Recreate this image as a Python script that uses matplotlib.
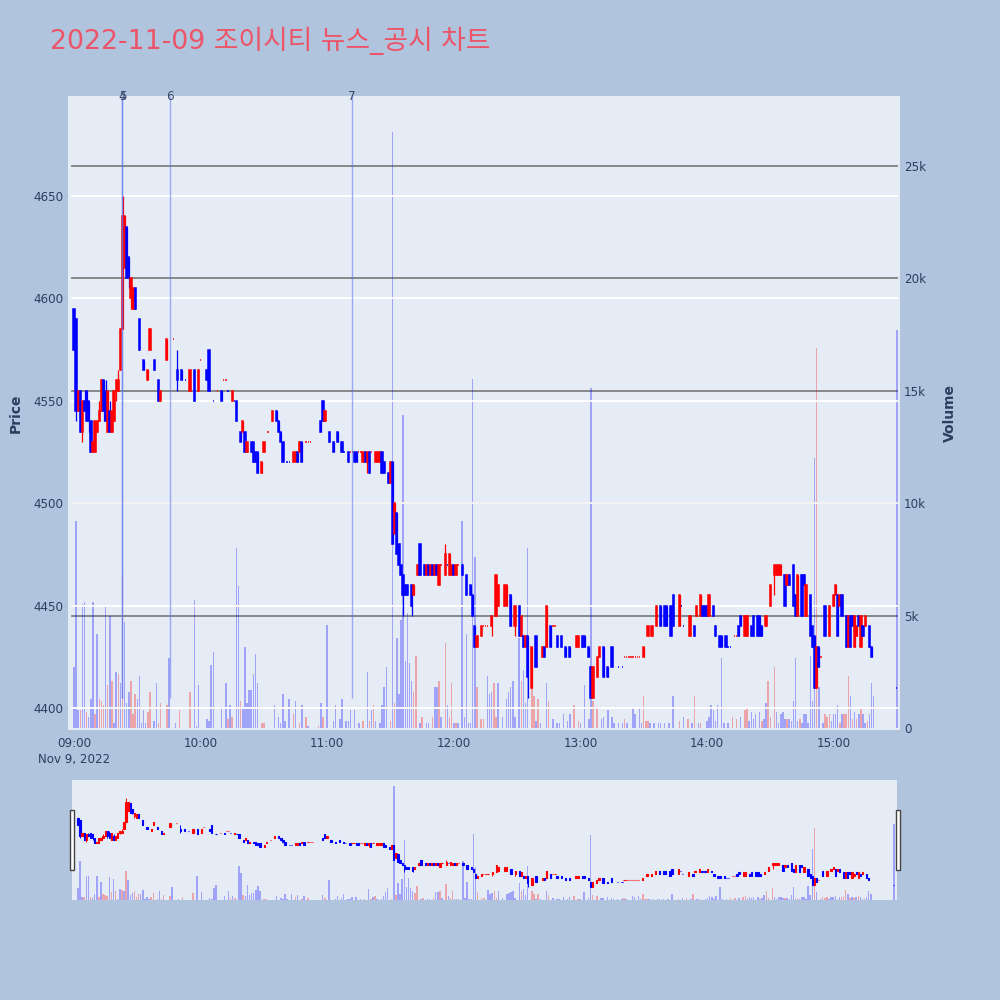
import matplotlib
matplotlib.use("Agg")
import matplotlib.pyplot as plt
from matplotlib.patches import Rectangle

# ---------------- data (minutes after 09:00, prices in KRW) ----------------
c_min = [0, 1, 2, 3, 4, 5, 6, 7, 8, 9,
         10, 11, 12, 13, 14, 15, 16, 17, 18, 19,
         20, 21, 22, 23, 24, 25, 26, 27, 28, 29,
         31, 33, 35, 36, 38, 40, 41, 44, 47, 49,
         51, 53, 55, 57, 59, 60, 63, 64, 66, 68,
         70, 71, 72, 73, 75, 76, 77, 79, 80, 81,
         82, 84, 85, 86, 87, 89, 90, 92, 94, 96,
         97, 98, 99, 101, 102, 104, 105, 106, 107, 108,
         110, 111, 112, 117, 118, 119, 121, 123, 125, 127,
         128, 130, 131, 132, 133, 134, 135, 136, 137, 138,
         139, 140, 141, 143, 144, 145, 146, 147, 149, 150,
         151, 152, 153, 154, 155, 156, 157, 158, 160, 161,
         163, 164, 166, 167, 168, 169, 170, 171, 172, 173,
         174, 176, 177, 178, 179, 180, 181, 182, 184, 186,
         188, 189, 190, 191, 193, 194, 195, 196, 198, 200,
         201, 204, 205, 207, 209, 211, 212, 213, 214, 215,
         217, 219, 222, 223, 224, 226, 227, 228, 229, 231,
         233, 235, 238, 239, 241, 242, 244, 245, 246, 248,
         249, 251, 253, 255, 258, 260, 261, 262, 263, 264,
         265, 266, 267, 268, 270, 272, 274, 276, 278, 280,
         281, 283, 284, 287, 288, 289, 292, 294, 295, 297,
         298, 299, 300, 301, 303, 304, 306, 307, 309, 310,
         311, 313, 314, 315, 316, 318, 319, 321, 322, 324,
         325, 326, 328, 330, 332, 333, 334, 335, 337, 338,
         339, 341, 342, 343, 345, 346, 347, 349, 350, 351,
         352, 353, 354, 356, 358, 360, 361, 362, 363, 364,
         366, 367, 368, 369, 370, 371, 372, 373, 374, 375,
         377, 378, 390]
c_open = [4595, 4590, 4545, 4555, 4535, 4550, 4555, 4550, 4540, 4525,
          4525, 4535, 4540, 4545, 4560, 4555, 4535, 4545, 4535, 4540,
          4555, 4555, 4565, 4585, 4615, 4635, 4620, 4600, 4595, 4605,
          4590, 4570, 4560, 4575, 4570, 4560, 4550, 4570, 4580, 4565,
          4565, 4560, 4555, 4565, 4555, 4570, 4565, 4575, 4550, 4555,
          4555, 4560, 4560, 4555, 4550, 4550, 4550, 4535, 4535, 4535,
          4525, 4530, 4530, 4525, 4525, 4515, 4525, 4535, 4540, 4545,
          4540, 4535, 4530, 4520, 4520, 4520, 4520, 4525, 4525, 4530,
          4530, 4530, 4530, 4540, 4550, 4540, 4535, 4530, 4535, 4530,
          4525, 4525, 4525, 4525, 4525, 4525, 4525, 4525, 4520, 4525,
          4520, 4525, 4525, 4520, 4520, 4520, 4525, 4520, 4515, 4510,
          4520, 4485, 4495, 4480, 4470, 4465, 4460, 4460, 4460, 4455,
          4465, 4480, 4470, 4465, 4470, 4465, 4470, 4465, 4470, 4460,
          4470, 4465, 4470, 4465, 4465, 4470, 4465, 4470, 4470, 4465,
          4460, 4455, 4440, 4430, 4435, 4440, 4440, 4440, 4440, 4445,
          4450, 4450, 4450, 4455, 4440, 4450, 4435, 4435, 4430, 4435,
          4410, 4435, 4425, 4430, 4430, 4440, 4440, 4440, 4435, 4435,
          4430, 4430, 4430, 4430, 4435, 4435, 4430, 4420, 4405, 4415,
          4425, 4430, 4420, 4430, 4420, 4420, 4425, 4425, 4425, 4425,
          4425, 4425, 4425, 4425, 4425, 4435, 4435, 4440, 4450, 4450,
          4450, 4450, 4455, 4440, 4450, 4440, 4435, 4440, 4445, 4445,
          4450, 4450, 4450, 4445, 4450, 4440, 4435, 4435, 4435, 4430,
          4430, 4435, 4435, 4440, 4445, 4435, 4435, 4440, 4445, 4445,
          4445, 4440, 4440, 4450, 4465, 4465, 4465, 4465, 4465, 4460,
          4465, 4470, 4455, 4445, 4465, 4465, 4445, 4455, 4440, 4435,
          4410, 4430, 4425, 4450, 4435, 4450, 4455, 4455, 4450, 4455,
          4445, 4430, 4445, 4445, 4430, 4435, 4445, 4430, 4440, 4440,
          4440, 4430, 4410]
c_high = [4595, 4590, 4555, 4555, 4550, 4555, 4555, 4550, 4540, 4530,
          4540, 4540, 4550, 4560, 4560, 4560, 4555, 4550, 4545, 4555,
          4560, 4565, 4585, 4650, 4640, 4635, 4620, 4610, 4605, 4605,
          4590, 4570, 4565, 4585, 4570, 4560, 4555, 4580, 4580, 4575,
          4565, 4560, 4565, 4565, 4565, 4570, 4565, 4575, 4550, 4555,
          4555, 4560, 4560, 4555, 4555, 4550, 4550, 4535, 4540, 4535,
          4530, 4530, 4530, 4525, 4525, 4520, 4530, 4535, 4545, 4545,
          4540, 4535, 4530, 4520, 4520, 4525, 4525, 4525, 4530, 4530,
          4530, 4530, 4530, 4540, 4550, 4545, 4535, 4530, 4535, 4530,
          4525, 4525, 4525, 4525, 4525, 4525, 4525, 4525, 4525, 4525,
          4525, 4525, 4525, 4525, 4525, 4525, 4525, 4520, 4515, 4520,
          4520, 4500, 4495, 4480, 4470, 4465, 4460, 4460, 4460, 4460,
          4470, 4480, 4470, 4470, 4470, 4470, 4470, 4470, 4470, 4470,
          4470, 4480, 4470, 4475, 4470, 4470, 4470, 4470, 4470, 4465,
          4460, 4455, 4440, 4435, 4440, 4440, 4440, 4440, 4445, 4465,
          4460, 4460, 4460, 4455, 4450, 4450, 4445, 4435, 4435, 4435,
          4430, 4435, 4430, 4430, 4450, 4440, 4440, 4440, 4435, 4435,
          4430, 4430, 4435, 4435, 4435, 4435, 4430, 4420, 4420, 4425,
          4430, 4430, 4420, 4430, 4420, 4420, 4425, 4425, 4425, 4425,
          4425, 4425, 4425, 4425, 4430, 4440, 4440, 4450, 4450, 4450,
          4450, 4450, 4455, 4455, 4450, 4440, 4445, 4440, 4450, 4455,
          4450, 4450, 4450, 4455, 4450, 4440, 4435, 4435, 4435, 4430,
          4430, 4435, 4435, 4440, 4445, 4445, 4445, 4440, 4445, 4445,
          4445, 4440, 4445, 4460, 4470, 4470, 4470, 4470, 4465, 4465,
          4465, 4470, 4455, 4465, 4465, 4465, 4460, 4455, 4440, 4435,
          4430, 4430, 4425, 4450, 4450, 4455, 4460, 4455, 4455, 4455,
          4445, 4445, 4445, 4445, 4445, 4440, 4445, 4445, 4440, 4445,
          4440, 4430, 4410]
c_low = [4575, 4540, 4545, 4535, 4530, 4545, 4540, 4535, 4525, 4525,
         4525, 4535, 4540, 4545, 4540, 4540, 4535, 4535, 4535, 4540,
         4550, 4555, 4565, 4585, 4615, 4610, 4605, 4595, 4595, 4595,
         4575, 4565, 4560, 4575, 4565, 4550, 4550, 4570, 4580, 4555,
         4560, 4560, 4555, 4550, 4555, 4570, 4560, 4555, 4550, 4555,
         4550, 4560, 4560, 4555, 4550, 4550, 4540, 4530, 4535, 4525,
         4525, 4525, 4520, 4520, 4515, 4515, 4525, 4535, 4540, 4540,
         4535, 4530, 4520, 4520, 4520, 4520, 4520, 4520, 4525, 4520,
         4530, 4530, 4530, 4535, 4540, 4540, 4530, 4525, 4530, 4525,
         4525, 4520, 4525, 4525, 4520, 4520, 4525, 4525, 4520, 4520,
         4515, 4515, 4525, 4520, 4520, 4520, 4515, 4515, 4510, 4510,
         4480, 4485, 4475, 4470, 4465, 4445, 4455, 4455, 4445, 4455,
         4465, 4465, 4465, 4465, 4465, 4465, 4465, 4465, 4465, 4460,
         4470, 4465, 4470, 4465, 4465, 4465, 4465, 4470, 4465, 4455,
         4455, 4445, 4430, 4430, 4435, 4440, 4440, 4440, 4435, 4445,
         4450, 4450, 4450, 4440, 4435, 4435, 4435, 4430, 4430, 4405,
         4410, 4420, 4425, 4425, 4430, 4430, 4440, 4440, 4430, 4430,
         4425, 4425, 4430, 4430, 4430, 4430, 4425, 4405, 4405, 4415,
         4425, 4415, 4415, 4420, 4420, 4420, 4425, 4425, 4425, 4425,
         4425, 4425, 4425, 4425, 4425, 4435, 4435, 4440, 4440, 4440,
         4440, 4435, 4440, 4440, 4450, 4440, 4435, 4435, 4445, 4445,
         4445, 4445, 4445, 4445, 4445, 4435, 4430, 4430, 4430, 4430,
         4430, 4435, 4435, 4435, 4440, 4435, 4435, 4435, 4435, 4435,
         4435, 4435, 4440, 4450, 4455, 4465, 4465, 4465, 4450, 4460,
         4460, 4450, 4445, 4445, 4445, 4460, 4445, 4435, 4430, 4410,
         4410, 4420, 4425, 4435, 4435, 4450, 4455, 4435, 4450, 4445,
         4430, 4430, 4430, 4440, 4430, 4435, 4440, 4430, 4435, 4440,
         4430, 4425, 4410]
c_close = [4575, 4545, 4555, 4535, 4550, 4545, 4540, 4540, 4525, 4530,
           4540, 4540, 4545, 4560, 4545, 4540, 4555, 4535, 4545, 4555,
           4560, 4560, 4585, 4640, 4640, 4610, 4610, 4610, 4605, 4595,
           4575, 4565, 4565, 4585, 4565, 4550, 4555, 4580, 4580, 4560,
           4560, 4560, 4565, 4550, 4565, 4570, 4560, 4555, 4550, 4555,
           4550, 4560, 4560, 4555, 4555, 4550, 4540, 4530, 4540, 4525,
           4530, 4525, 4520, 4520, 4515, 4520, 4530, 4535, 4545, 4540,
           4535, 4530, 4520, 4520, 4520, 4525, 4525, 4520, 4530, 4520,
           4530, 4530, 4530, 4535, 4540, 4545, 4530, 4525, 4530, 4525,
           4525, 4520, 4525, 4525, 4520, 4520, 4525, 4525, 4525, 4520,
           4525, 4515, 4525, 4525, 4525, 4525, 4515, 4515, 4510, 4520,
           4480, 4500, 4475, 4470, 4465, 4455, 4455, 4455, 4450, 4460,
           4470, 4465, 4465, 4470, 4465, 4470, 4465, 4470, 4465, 4470,
           4470, 4475, 4470, 4475, 4470, 4465, 4470, 4470, 4465, 4455,
           4455, 4445, 4430, 4435, 4440, 4440, 4440, 4440, 4445, 4465,
           4460, 4460, 4460, 4440, 4450, 4435, 4445, 4430, 4435, 4415,
           4430, 4420, 4430, 4425, 4450, 4430, 4440, 4440, 4430, 4430,
           4425, 4425, 4435, 4435, 4430, 4430, 4425, 4405, 4420, 4425,
           4430, 4415, 4415, 4420, 4420, 4420, 4425, 4425, 4425, 4425,
           4425, 4425, 4425, 4425, 4430, 4440, 4440, 4450, 4440, 4440,
           4440, 4435, 4440, 4455, 4450, 4440, 4445, 4435, 4450, 4455,
           4445, 4445, 4445, 4455, 4445, 4435, 4430, 4430, 4430, 4430,
           4430, 4435, 4435, 4435, 4440, 4445, 4445, 4435, 4435, 4435,
           4435, 4435, 4445, 4460, 4470, 4470, 4470, 4470, 4450, 4465,
           4460, 4450, 4445, 4465, 4445, 4460, 4460, 4435, 4430, 4410,
           4430, 4420, 4425, 4435, 4450, 4455, 4460, 4435, 4455, 4445,
           4430, 4445, 4430, 4440, 4445, 4440, 4440, 4445, 4435, 4445,
           4430, 4425, 4410]

vol_min = [0, 1, 2, 3, 4, 5, 6, 7, 8, 9,
           10, 11, 12, 13, 14, 15, 16, 17, 18, 19,
           20, 21, 22, 23, 24, 25, 26, 27, 28, 29,
           30, 31, 32, 33, 34, 35, 36, 38, 39, 40,
           41, 44, 45, 48, 50, 55, 57, 58, 59, 63,
           64, 65, 66, 70, 72, 73, 74, 75, 77, 78,
           79, 80, 81, 82, 83, 84, 85, 86, 87, 89,
           90, 95, 97, 98, 99, 100, 102, 104, 105, 107,
           108, 110, 111, 116, 117, 118, 120, 123, 124, 126,
           127, 129, 130, 131, 133, 135, 137, 139, 140, 141,
           142, 143, 145, 146, 147, 148, 150, 151, 152, 153,
           154, 155, 156, 157, 158, 159, 160, 161, 162, 164,
           165, 167, 168, 170, 171, 172, 173, 174, 176, 177,
           178, 179, 180, 181, 182, 184, 185, 186, 187, 188,
           189, 190, 191, 193, 194, 196, 197, 198, 199, 200,
           201, 203, 205, 206, 207, 208, 209, 211, 212, 213,
           214, 215, 217, 218, 219, 220, 221, 224, 225, 227,
           229, 230, 232, 234, 235, 237, 239, 240, 242, 244,
           245, 246, 248, 250, 251, 253, 255, 256, 258, 260,
           261, 262, 265, 266, 268, 269, 270, 271, 272, 273,
           275, 277, 278, 280, 282, 284, 287, 289, 291, 293,
           294, 296, 297, 300, 301, 302, 303, 304, 305, 307,
           308, 310, 312, 314, 316, 318, 319, 320, 321, 322,
           323, 325, 326, 327, 328, 329, 330, 332, 333, 334,
           335, 336, 337, 338, 339, 340, 341, 342, 343, 344,
           345, 346, 347, 348, 349, 350, 351, 352, 353, 355,
           356, 357, 358, 359, 360, 361, 362, 363, 364, 365,
           366, 367, 368, 369, 370, 371, 372, 373, 374, 375,
           376, 377, 378, 379, 390]
vol_k = [2.7, 9.2, 0.8, 0.8, 5.5, 5.6, 0.7, 0.5, 1.3, 5.6,
         0.6, 4.2, 1.3, 1.2, 1.0, 5.4, 1.9, 5.0, 2.1, 0.2,
         2.5, 2.4, 2.0, 6.8, 4.7, 1.1, 1.6, 2.1, 0.6, 1.5,
         1.3, 2.3, 0.2, 0.8, 0.2, 0.7, 1.6, 0.3, 2.0, 0.2,
         1.1, 1.0, 3.1, 0.2, 0.8, 1.6, 5.7, 0.1, 1.9, 0.4,
         0.3, 2.8, 3.4, 0.9, 2.0, 0.4, 1.0, 0.5, 8.0, 6.3,
         1.2, 0.9, 3.6, 1.1, 1.7, 1.7, 2.4, 3.3, 2.0, 0.2,
         0.2, 1.0, 0.5, 0.2, 1.5, 0.3, 1.3, 0.6, 1.2, 0.2,
         1.0, 0.5, 0.1, 0.1, 1.1, 0.5, 4.6, 0.3, 1.0, 0.4,
         1.3, 0.3, 0.3, 0.8, 0.8, 0.2, 0.3, 2.5, 0.3, 0.8,
         1.0, 0.3, 0.2, 1.0, 1.8, 2.7, 0.3, 26.5, 1.1, 4.0,
         1.5, 4.8, 13.9, 3.0, 5.1, 2.9, 2.1, 1.6, 3.2, 0.2,
         0.5, 0.2, 0.2, 0.5, 1.8, 1.8, 2.1, 0.5, 3.8, 1.0,
         0.5, 2.0, 0.2, 0.2, 0.2, 9.2, 0.5, 4.2, 0.2, 0.2,
         15.5, 7.6, 1.8, 0.4, 0.4, 2.3, 1.5, 1.6, 2.0, 0.5,
         2.0, 0.5, 1.3, 1.6, 1.8, 2.1, 0.5, 4.0, 2.1, 2.6,
         1.1, 8.0, 2.1, 1.4, 0.3, 1.3, 0.2, 2.0, 1.2, 0.4,
         0.2, 0.2, 0.6, 0.3, 0.6, 1.0, 0.3, 0.2, 1.9, 0.4,
         15.1, 1.2, 0.9, 0.4, 0.5, 0.8, 0.5, 0.2, 0.2, 0.2,
         0.4, 0.2, 0.9, 0.6, 0.9, 0.2, 1.4, 0.3, 0.3, 0.2,
         0.2, 0.2, 0.2, 0.2, 0.2, 1.4, 0.3, 0.5, 0.4, 0.2,
         1.4, 0.2, 0.2, 0.3, 0.5, 1.0, 0.8, 0.3, 1.0, 3.1,
         0.2, 0.2, 0.5, 0.4, 0.5, 0.8, 0.9, 0.3, 0.7, 0.4,
         0.6, 0.7, 0.3, 0.4, 1.1, 2.1, 0.5, 2.7, 0.7, 0.2,
         0.6, 0.7, 0.4, 0.4, 0.4, 0.3, 1.2, 3.1, 0.3, 0.4,
         0.2, 0.6, 0.6, 0.2, 3.2, 1.2, 12.0, 16.9, 1.8, 0.2,
         0.6, 0.5, 0.6, 0.3, 0.6, 0.6, 1.0, 0.2, 0.6, 0.6,
         0.6, 2.3, 1.4, 0.4, 0.7, 0.4, 0.6, 0.9, 0.6, 0.2,
         0.3, 0.6, 2.0, 1.4, 17.7]
vol_dir = ("bbbrbbrbbb" "rbrrrbrbrb" "brbrbbbrrr" "bbbbbrrbbr" "rrbbrrbbbb"
           "bbbbbrbrbb" "rbbbbbbbbr" "rbbbbbbrbr" "brbrbrbbbb" "bbbbbbrbrb"
           "rbbbbbrbrb" "bbbbbbbrrb" "rbbrbbrbrb" "rrbrbbbbbb" "bbrrrbbbrr"
           "bbbbbbbbrb" "bbrrbrbbrb" "bbbbbrrbbb" "brrbbbbbbb" "rbbbbbrrrb"
           "bbbbbbrbrb" "rbrbbbbbbb" "bbrrbrrbbb" "bbrbbrrrbb" "bbbrbbbbbr"
           "bbbbbbbrbb" "rrrbbbbrbr" "rrbrbrbrbb" "rbbbb")

news_min = [22.7, 22.95, 45.5, 131.8]
news_lbl = ["4", "5", "6", "7"]

x_tick_min = [0, 60, 120, 180, 240, 300, 360]
x_tick_lbl = ["09:00\nNov 9, 2022", "10:00", "11:00", "12:00", "13:00", "14:00", "15:00"]
price_ticks = [4400, 4450, 4500, 4550, 4600, 4650]
vol_ticks = [0, 5000, 10000, 15000, 20000, 25000]
vol_tick_lbl = ["0", "5k", "10k", "15k", "20k", "25k"]

TITLE = "2022-11-09 조이시티 뉴스_공시 차트"

# ---------------- style ----------------
PAPER = "#B0C4DE"
PLOT_BG = "#E5ECF6"
UP = "#FF0000"
DOWN = "#0000FF"
FONT_COLOR = "#2a3f5f"
FONTS = ["DejaVu Sans", "Noto Sans CJK KR"]
plt.rcParams["font.family"] = FONTS

X_LIM = (-2.84, 391.5)
GRID_X0, GRID_X1 = 4 / 832, 829 / 832

# candle direction (plotly: equal open/close follows previous close / previous direction)
dirs = []
prev_c = None
prev_up = True
for o, c in zip(c_open, c_close):
    if c > o:
        up = True
    elif c < o:
        up = False
    elif prev_c is not None and c > prev_c:
        up = True
    elif prev_c is not None and c < prev_c:
        up = False
    else:
        up = prev_up
    dirs.append(up)
    prev_c, prev_up = c, up

vol_val = [v * 1000 for v in vol_k]
vol_col = [(1, 0, 0, 0.3) if d == "r" else (0, 0, 1, 0.3) for d in vol_dir]


def draw(axp, axv, body_w, body_lw, wick_lw, vol_w):
    axv.bar(vol_min, vol_val, width=vol_w, color=vol_col, linewidth=0, zorder=2)
    for m, o, h, l, c, up in zip(c_min, c_open, c_high, c_low, c_close, dirs):
        col = UP if up else DOWN
        axp.vlines(m, l, h, color=col, linewidth=wick_lw, zorder=3)
        axp.bar(m, c - o, bottom=o, width=body_w, color=col, edgecolor=col,
                linewidth=body_lw, zorder=4)


fig = plt.figure(figsize=(10, 10), dpi=100, facecolor=PAPER)

# ---------------- main panel ----------------
axv = fig.add_axes([0.068, 0.270, 0.832, 0.634])
axv.set_facecolor(PLOT_BG)
ax = axv.twinx()
ax.set_zorder(axv.get_zorder() + 1)
ax.patch.set_visible(False)

axv.yaxis.tick_right()
axv.yaxis.set_label_position("right")
ax.yaxis.tick_left()
ax.yaxis.set_label_position("left")

axv.set_xlim(*X_LIM)
axv.set_ylim(-90, 28100)
ax.set_ylim(4389.3, 4698.8)

for v in vol_ticks[1:]:
    axv.axhline(v, xmin=GRID_X0, xmax=GRID_X1, color="#808080", linewidth=1.3, zorder=1)
for p in price_ticks:
    ax.axhline(p, xmin=GRID_X0, xmax=GRID_X1, color="white", linewidth=1.3, zorder=1)

draw(ax, axv, body_w=0.6, body_lw=1.1, wick_lw=0.9, vol_w=0.7)

for m, t in zip(news_min, news_lbl):
    ax.vlines(m, min(c_low), 4698.8, color=(0.35, 0.45, 0.95, 0.55), linewidth=1.0, zorder=5)
    ax.text(m, 4698.8, t, ha="center", va="center", fontsize=8.6, color="#3a4a6a",
            clip_on=False, zorder=6)

ax.set_yticks(price_ticks)
ax.set_yticklabels([str(p) for p in price_ticks])
axv.set_yticks(vol_ticks)
axv.set_yticklabels(vol_tick_lbl)
axv.set_xticks(x_tick_min)
axv.set_xticklabels(x_tick_lbl, linespacing=1.35)
for a in (ax, axv):
    a.tick_params(length=0, labelsize=8.6, colors=FONT_COLOR)
    for s in a.spines.values():
        s.set_visible(False)
ax.tick_params(axis="y", pad=3)
axv.tick_params(axis="y", pad=3)
axv.tick_params(axis="x", pad=5)
ax.set_ylabel("Price", fontsize=10, fontweight="bold", color=FONT_COLOR, labelpad=8)
axv.set_ylabel("Volume", fontsize=10, fontweight="bold", color=FONT_COLOR, labelpad=12)

# ---------------- range slider ----------------
sv = fig.add_axes([0.072, 0.100, 0.825, 0.120])
sv.set_facecolor(PLOT_BG)
sp = sv.twinx()
sp.set_zorder(sv.get_zorder() + 1)
sp.patch.set_visible(False)
sv.set_xlim(*X_LIM)
sv.set_ylim(0, 28000)
sp.set_ylim(4369.3, 4699.5)
draw(sp, sv, body_w=0.6, body_lw=0.8, wick_lw=0.7, vol_w=0.7)
for a in (sv, sp):
    a.set_xticks([])
    a.set_yticks([])
    for s in a.spines.values():
        s.set_visible(False)

for xpx in (69.5, 895.5):
    fig.patches.append(Rectangle((xpx / 1000, 1 - 870 / 1000), 4 / 1000, 60 / 1000,
                                 transform=fig.transFigure, facecolor="white",
                                 edgecolor="#444444", linewidth=1.0, zorder=10))

# ---------------- title ----------------
fig.text(0.05, 0.959, TITLE, fontsize=19.3, color="#EC5468", ha="left", va="center",
         family=FONTS)

fig.savefig("out.png", dpi=100, facecolor=PAPER)
